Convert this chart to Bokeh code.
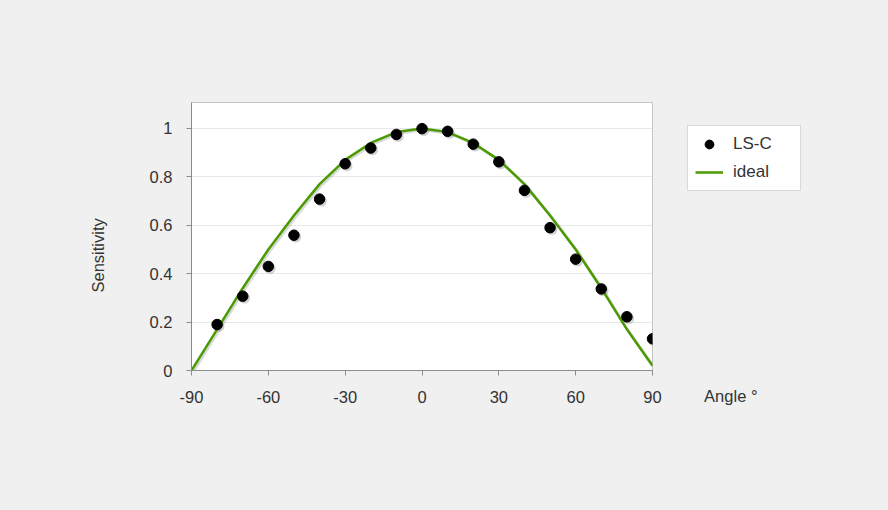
from bokeh.plotting import figure
from bokeh.models import ColumnDataSource, Legend, LegendItem, Title, FixedTicker
from bokeh.transform import dodge
from bokeh.embed import file_html
from bokeh.resources import INLINE

# ---- data ----
angles_ideal = [-90, -80, -70, -60, -50, -40, -30, -20, -10, 0, 10, 20, 30, 40, 50, 60, 70, 80, 90]
ideal = [0.0, 0.17, 0.34, 0.5, 0.64, 0.77, 0.87, 0.94, 0.985, 1.0, 0.985, 0.94, 0.87, 0.77, 0.64, 0.5, 0.34, 0.17, 0.02]
angles_lsc = [-80, -70, -60, -50, -40, -30, -20, -10, 0, 10, 20, 30, 40, 50, 60, 70, 80, 90]
lsc = [0.19, 0.307, 0.43, 0.559, 0.708, 0.854, 0.919, 0.975, 0.999, 0.988, 0.935, 0.862, 0.744, 0.59, 0.46, 0.337, 0.222, 0.131]
x_ticks = [-90, -60, -30, 0, 30, 60, 90]
x_tick_labels = ["-90", "-60", "-30", "0", "30", "60", "90"]
y_ticks = [0, 0.2, 0.4, 0.6, 0.8, 1.0]
y_tick_labels = ["0", "0.2", "0.4", "0.6", "0.8", "1"]
series_names = ["LS-C", "ideal"]
x_title = "Angle °"
y_title = "Sensitivity"

FONT = "Liberation Sans"
TXT = "#333333"
GREEN = "#4a9a00"
FS = "16.5px"

src_ideal = ColumnDataSource(dict(x=angles_ideal, y=ideal))
src_lsc = ColumnDataSource(dict(x=angles_lsc, y=lsc))

p = figure(frame_width=461, frame_height=268, output_backend="svg", toolbar_location=None,
           x_range=(-90, 90), y_range=(0, 1.107),
           min_border_left=191, min_border_right=220, min_border_top=102, min_border_bottom=124,
           background_fill_color="white", border_fill_color="#f0f0f0")
p.outline_line_color = "#c4c4c4"
p.outline_line_width = 1

# shadows
p.line(x=dodge("x", 0.6, range=p.x_range), y=dodge("y", -0.006, range=p.y_range), source=src_ideal,
       line_color="black", line_alpha=0.15, line_width=3)
p.scatter(x=dodge("x", 0.7, range=p.x_range), y=dodge("y", -0.008, range=p.y_range), source=src_lsc,
          size=11, fill_color="black", fill_alpha=0.18, line_color=None)

r_line = p.line("x", "y", source=src_ideal, line_color=GREEN, line_width=2.5)
r_pts = p.scatter("x", "y", source=src_lsc, size=10.5, fill_color="black", line_color="black")

# axes
p.xaxis.ticker = FixedTicker(ticks=x_ticks)
p.xaxis.major_label_overrides = {t: l for t, l in zip(x_ticks, x_tick_labels)}
p.yaxis.ticker = FixedTicker(ticks=y_ticks)
p.yaxis.major_label_overrides = {t: l for t, l in zip(y_ticks, y_tick_labels)}
for ax in (p.xaxis[0], p.yaxis[0]):
    ax.axis_line_color = "#8c8c8c"
    ax.major_tick_line_color = "#8c8c8c"
    ax.major_tick_in = 0
    ax.major_tick_out = 5
    ax.minor_tick_line_color = None
    ax.major_label_text_font = FONT
    ax.major_label_text_font_size = FS
    ax.major_label_text_color = TXT
p.yaxis.major_label_standoff = 14
p.xaxis.major_label_standoff = 15

p.xgrid.grid_line_color = None
p.ygrid.grid_line_color = "#e8e8e8"

# y title (placed slightly below the axis centre, as in the reference)
p.add_layout(Title(text=y_title, align="left", offset=78, vertical_align="middle", standoff=77,
                   text_font=FONT, text_font_size=FS, text_color=TXT, text_font_style="normal"),
             "left")

p.add_layout(Title(text=x_title, align="right", offset=-105, vertical_align="top", standoff=-38,
                   text_font=FONT, text_font_size=FS, text_color=TXT, text_font_style="normal"),
             "below")

legend = Legend(items=[LegendItem(label=series_names[0], renderers=[r_pts]),
                       LegendItem(label=series_names[1], renderers=[r_line])],
                location=(35, 179), padding=7, spacing=6, glyph_height=22, glyph_width=28,
                label_standoff=10, label_width=60, label_text_font=FONT, label_text_font_size="17px",
                label_text_color=TXT, border_line_color="#b4b4b4", background_fill_color="white",
                background_fill_alpha=1.0, margin=0)
p.add_layout(legend, "right")

html = file_html(p, INLINE)
html = html.replace("</head>", "<style>body{background:#f0f0f0;}</style></head>", 1)
open("out.html", "w").write(html)
